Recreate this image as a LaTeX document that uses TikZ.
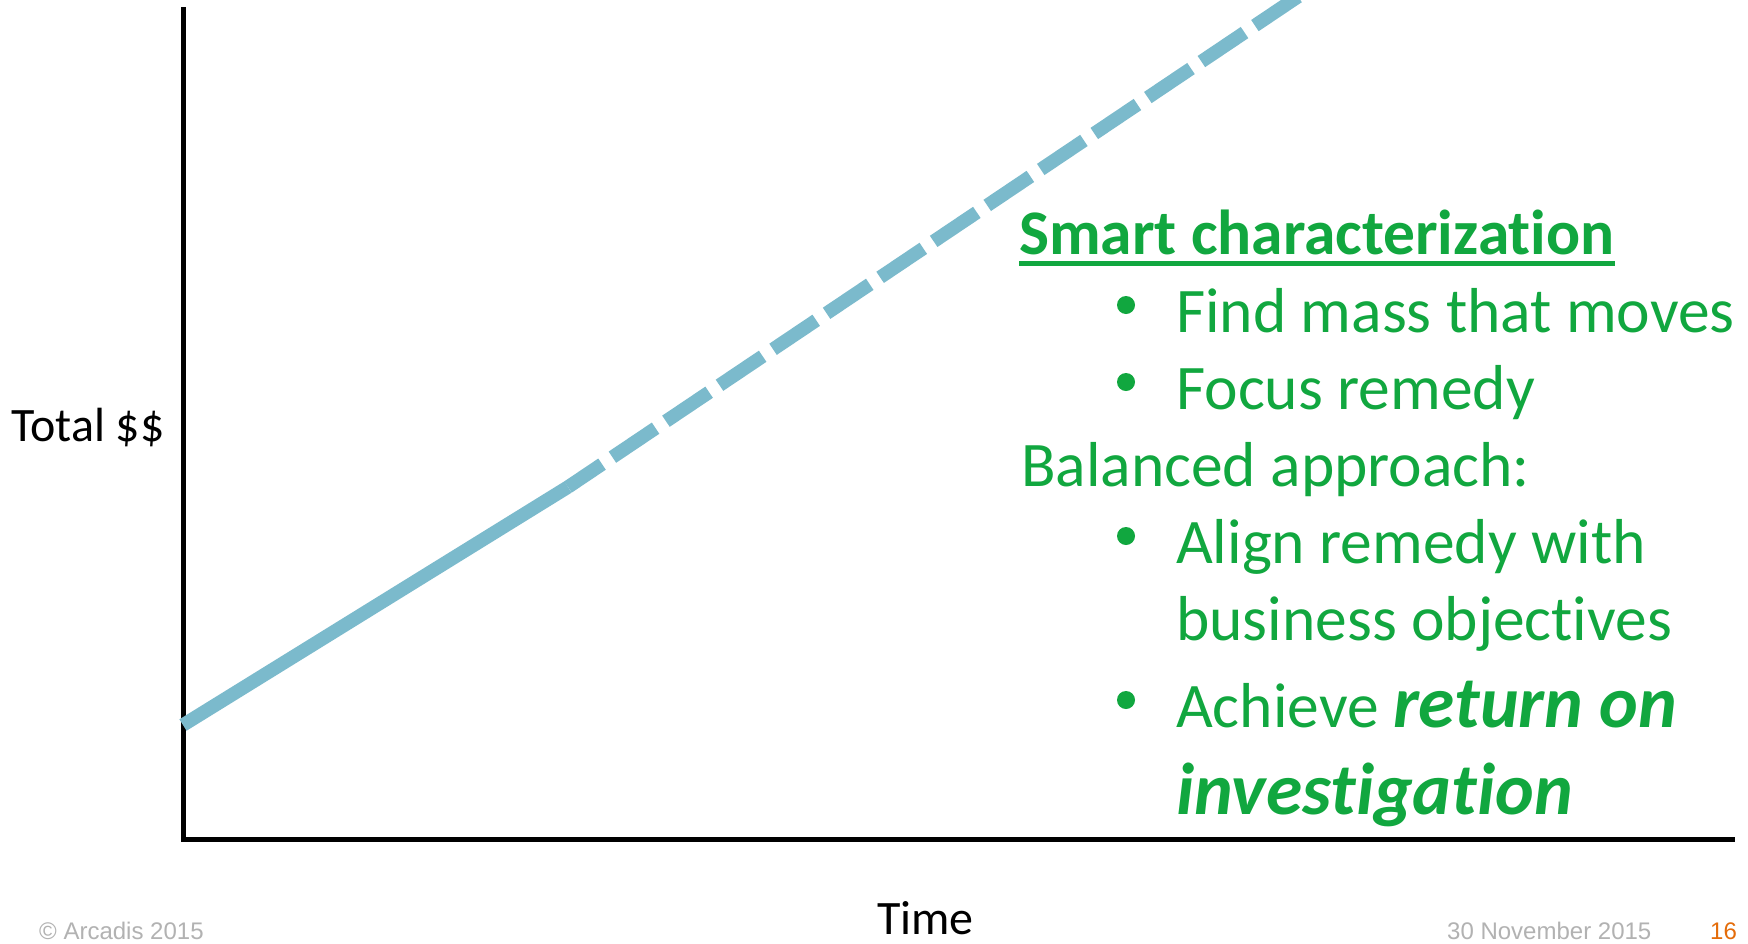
\documentclass[tikz,border=0pt]{standalone}
\usepackage{fontspec}
\usetikzlibrary{calc}
\setmainfont{Carlito}[Ligatures={NoCommon}]
\newfontfamily\footfont{Liberation Sans}
\definecolor{txtgreen}{RGB}{17,167,63}
\definecolor{curveblue}{RGB}{123,186,204}
\definecolor{footgray}{RGB}{178,178,178}
\definecolor{pageorange}{RGB}{228,108,10}
\begin{document}
\begin{tikzpicture}[x=1pt,y=-1pt,
  axisline/.style={line width=5pt, black, line join=miter},
  curve/.style={line width=13.5pt, curveblue},
  body/.style={inner sep=0pt, anchor=base west, text=txtgreen, font=\fontsize{63.5}{77}\selectfont},
  bulletdot/.style={circle, fill=txtgreen, inner sep=0pt, minimum size=18pt},
  axislabel/.style={inner sep=0pt, anchor=base west, font=\fontsize{48}{58}\selectfont},
  foot/.style={inner sep=0pt, anchor=base west, text=footgray, font=\footfont\fontsize{24}{29}\selectfont}]
\useasboundingbox (0,0) rectangle (1748,943);
\clip (0,0) rectangle (1748,943);
\fill[white] (0,0) rectangle (1748,943);
% axes
\coordinate (ytop) at (183,7);
\coordinate (origin) at (183,839);
\coordinate (xend) at (1735,839);
\draw[axisline] (ytop) -- (origin) -- (xend);
% curve
\coordinate (cstart) at (183,725);
\coordinate (knee) at (568,487);
\coordinate (ctop) at (1293,0);
\coordinate (cend) at ($(knee)!1.08!(ctop)$);
\draw[curve] (cstart) -- (knee);
\draw[curve, dash pattern=on 52pt off 12.5pt, dash phase=11pt] (knee) -- (cend);
% axis labels
\node[axislabel] (ylab) at (11,441) {Total \$\$};
\node[axislabel] (xlab) at (877,934) {Time};
% text block
\node[body, font=\fontsize{63.5}{77}\selectfont\bfseries] (title) at (1019,254) {Smart characterization};
\draw[txtgreen, line width=5pt] ([yshift=-9pt]title.base west) -- ([yshift=-9pt]title.base east);
\node[bulletdot] (b1) at (1126,305) {};
\node[body] (t1) at (1176,332) {Find mass that moves};
\node[bulletdot] (b2) at (1126,382) {};
\node[body] (t2) at (1176,409) {Focus remedy};
\node[body] (t3) at (1021,486) {Balanced approach:};
\node[bulletdot] (b3) at (1126,536) {};
\node[body] (t4) at (1176,563) {Align remedy with};
\node[body] (t5) at (1176,640) {business objectives};
\node[bulletdot] (b4) at (1126,700) {};
\node[body] (t6) at (1176,727) {Achieve {\fontsize{73.5}{88}\selectfont\bfseries\itshape return on}};
\node[body, font=\fontsize{73.5}{88}\selectfont\bfseries\itshape] (t7) at (1176,814) {investigation};
% footer
\node[foot] (f1) at (39,939) {\textcopyright{} Arcadis 2015};
\node[foot] (f2) at (1447,939) {30 November 2015};
\node[foot, text=pageorange] (f3) at (1710,939) {16};
\end{tikzpicture}
\end{document}
